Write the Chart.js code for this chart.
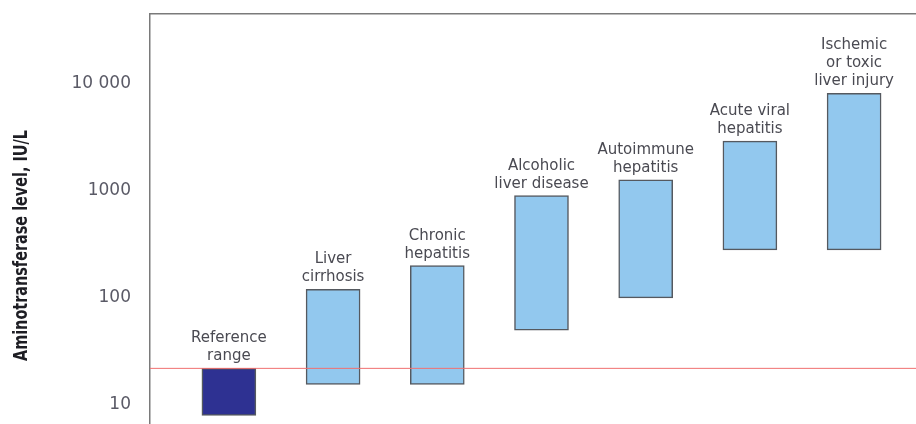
<!DOCTYPE html>
<html>
<head>
<meta charset="utf-8">
<script src="https://cdn.jsdelivr.net/npm/chart.js@4/dist/chart.umd.min.js"></script>
<style>
  html, body { margin: 0; padding: 0; background: #ffffff; overflow: hidden; }
  #wrap { width: 916px; height: 424px; }
</style>
</head>
<body>
<div id="wrap"><canvas id="chart" width="916" height="424"></canvas></div>
<script>
// Typical aminotransferase ranges (IU/L) by condition
const categories = [
  ['Reference', 'range'],
  ['Liver', 'cirrhosis'],
  ['Chronic', 'hepatitis'],
  ['Alcoholic', 'liver disease'],
  ['Autoimmune', 'hepatitis'],
  ['Acute viral', 'hepatitis'],
  ['Ischemic', 'or toxic', 'liver injury']
];
const lowValues  = [8,   15.6, 15.6, 50,  100,  280,  280];
const highValues = [22,  120,  200,  900, 1260, 2900, 8100];
const referenceUpperLimit = 22;
const yTickValues = [10, 100, 1000, 10000];
const yTickLabels = ['10', '100', '1000', '10 000'];
const yAxisTitle = 'Aminotransferase level, IU/L';

const positions = categories.map((_, i) => i + 1);
const X_MIN = 0.243, X_MAX = 7.594;
const Y_MIN = 6.66, Y_MAX = 44460;

const barData = positions.map((x, i) => ({ x: x, y: [lowValues[i], highValues[i]] }));
const fillColors = categories.map((_, i) => i === 0 ? '#2e3192' : '#92c8ee');

// Writes each condition name above its bar
const barCaptions = {
  id: 'barCaptions',
  afterDatasetsDraw(chart) {
    const meta = chart.getDatasetMeta(0);
    const ctx = chart.ctx;
    ctx.save();
    ctx.font = '15px "DejaVu Sans", sans-serif';
    ctx.fillStyle = '#4a4a52';
    ctx.textAlign = 'center';
    ctx.textBaseline = 'alphabetic';
    const lineHeight = 18;
    meta.data.forEach((bar, i) => {
      const lines = categories[i];
      const top = Math.min(bar.y, bar.base);
      lines.forEach((line, j) => {
        const y = top - 8 - (lines.length - 1 - j) * lineHeight;
        ctx.fillText(line, bar.x, y);
      });
    });
    ctx.restore();
  }
};

// Condensed, rotated y-axis title set a little below the axis middle
const condensedAxisTitle = {
  id: 'condensedAxisTitle',
  afterDraw(chart) {
    const ctx = chart.ctx;
    ctx.save();
    ctx.font = 'bold 20px "DejaVu Sans", sans-serif';
    ctx.fillStyle = '#1e1e24';
    ctx.textAlign = 'center';
    ctx.textBaseline = 'middle';
    const natural = ctx.measureText(yAxisTitle).width;
    const targetLength = 231;
    ctx.translate(22, 245.5);
    ctx.rotate(-Math.PI / 2);
    ctx.scale(targetLength / natural, 1);
    ctx.fillText(yAxisTitle, 0, 0);
    ctx.restore();
  }
};

new Chart(document.getElementById('chart'), {
  data: {
    datasets: [
      {
        type: 'bar',
        data: barData,
        backgroundColor: fillColors,
        borderColor: '#55595f',
        borderWidth: 1.5,
        borderSkipped: false,
        barThickness: 54,
        order: 2
      },
      {
        type: 'line',
        data: [{ x: X_MIN, y: referenceUpperLimit }, { x: X_MAX, y: referenceUpperLimit }],
        borderColor: '#f07070',
        borderWidth: 1,
        pointRadius: 0,
        fill: false,
        order: 1
      }
    ]
  },
  options: {
    responsive: false,
    animation: false,
    events: [],
    layout: { padding: { top: 14, right: 0, bottom: 0, left: 0 } },
    plugins: { legend: { display: false }, tooltip: { enabled: false } },
    scales: {
      x: {
        type: 'linear',
        position: 'top',
        offset: false,
        min: X_MIN,
        max: X_MAX,
        grid: { display: false, drawTicks: false, offset: false },
        ticks: { display: false },
        border: { display: true, color: '#7a7a7a', width: 1.5 },
        afterFit(scale) {
          scale.height = 0;
          scale.paddingLeft = 0; scale.paddingRight = 0;
        }
      },
      y: {
        type: 'logarithmic',
        min: Y_MIN,
        max: Y_MAX,
        grid: { display: false, drawTicks: false },
        border: { display: true, color: '#7a7a7a', width: 1.5 },
        afterBuildTicks(scale) {
          scale.ticks = yTickValues.map(v => ({ value: v }));
        },
        afterFit(scale) {
          scale.width = 150;
          scale.paddingTop = 0; scale.paddingBottom = 0;
        },
        ticks: {
          padding: 19,
          color: '#5a5a66',
          font: { family: '"DejaVu Sans", sans-serif', size: 17 },
          callback(value) {
            const k = yTickValues.indexOf(value);
            return k >= 0 ? yTickLabels[k] : '';
          }
        }
      }
    }
  },
  plugins: [barCaptions, condensedAxisTitle]
});
</script>
</body>
</html>
